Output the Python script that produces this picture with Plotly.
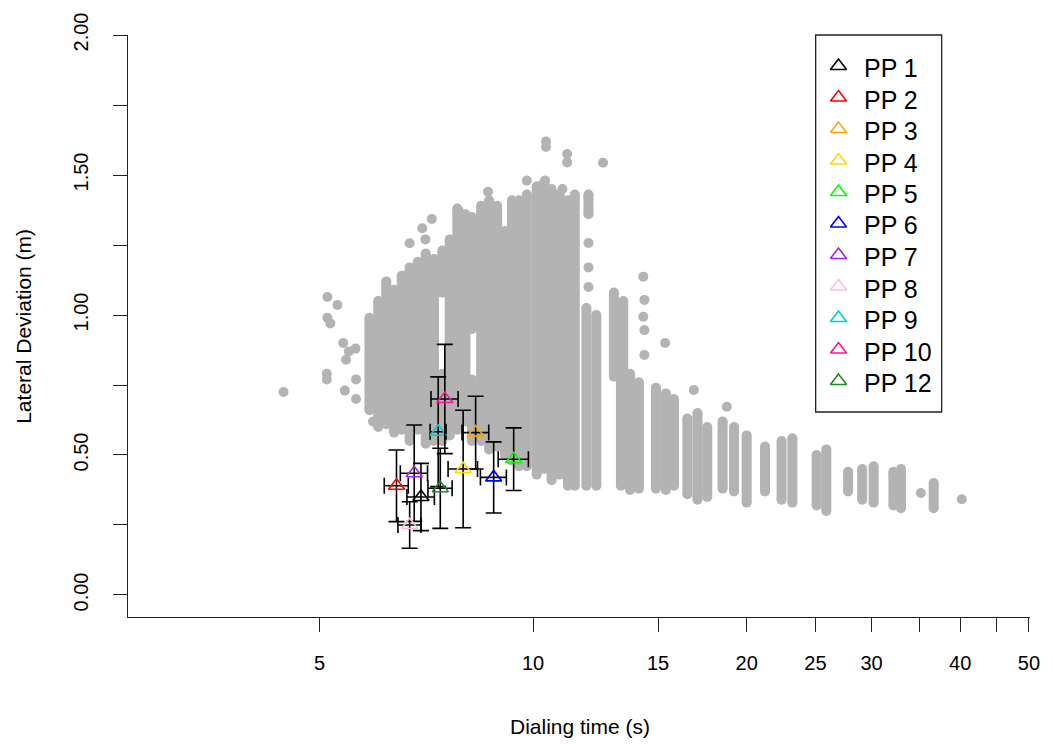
import plotly.graph_objects as go

# ---------------- background cloud (all trials) ----------------
# vertical clusters of trials: dialing time (s), lateral deviation low/high (m)
strip_x = [5.88, 6.05, 6.21, 6.37, 6.53, 6.70, 6.88, 7.06, 7.25, 7.45, 7.45,
           7.63, 7.82, 8.03, 8.20, 8.20, 8.45, 8.67, 8.90, 9.13, 9.34, 9.56,
           9.80, 10.12, 10.37, 10.62, 10.90, 11.20, 11.45, 11.97, 11.89, 12.28,
           13.0, 13.4, 13.3, 13.7, 14.1, 14.9, 15.39, 15.8, 16.5, 17.05, 17.6,
           18.5, 19.2, 20.0, 21.23, 22.4, 23.2, 25.1, 25.9, 27.8, 29.1, 30.2,
           32.2, 33.0, 36.7]
strip_lo = [0.66, 0.60, 0.61, 0.58, 0.59, 0.55, 0.59, 0.54, 0.55, 0.55, 1.08,
            0.57, 0.59, 0.62, 0.95, 0.55, 0.55, 0.52, 0.53, 0.50, 0.48, 0.46,
            0.46, 0.43, 0.45, 0.41, 0.43, 0.39, 0.39, 1.36, 0.39, 0.39,
            0.78, 0.78, 0.39, 0.375, 0.38, 0.38, 0.375, 0.39, 0.36, 0.34, 0.35,
            0.38, 0.37, 0.33, 0.37, 0.34, 0.33, 0.32, 0.30, 0.37, 0.34, 0.33,
            0.32, 0.31, 0.31]
strip_hi = [0.99, 1.05, 1.12, 1.09, 1.14, 1.17, 1.19, 1.22, 1.20, 0.79, 1.23,
            1.27, 1.38, 1.36, 1.35, 0.77, 1.39, 1.41, 1.39, 1.30, 1.41, 1.41,
            1.43, 1.46, 1.475, 1.45, 1.43, 1.41, 1.43, 1.43, 1.025, 1.00,
            1.08, 1.05, 0.79, 0.79, 0.76, 0.74, 0.72, 0.70, 0.63, 0.65, 0.60,
            0.62, 0.60, 0.57, 0.53, 0.55, 0.56, 0.50, 0.52, 0.44, 0.45, 0.46,
            0.44, 0.45, 0.40]

# isolated trials
dot_x = [4.45, 5.13, 5.30, 5.13, 5.18, 5.40, 5.50, 5.45, 5.62, 5.12, 5.12,
         5.63, 5.43, 5.63, 5.95, 10.43, 10.43, 11.17, 11.17, 12.55, 9.80,
         10.40, 8.64, 11.0, 7.20, 6.98, 7.05, 6.70, 7.20, 6.60, 7.85, 11.97,
         11.97, 11.97, 14.3, 14.35, 14.3, 14.35, 14.35, 15.35, 16.85, 18.75,
         35.2, 40.2]
dot_y = [0.725, 1.064, 1.036, 0.99, 0.97, 0.90, 0.87, 0.84, 0.88, 0.79, 0.77,
         0.77, 0.73, 0.70, 0.62, 1.62, 1.60, 1.575, 1.545, 1.544, 1.48,
         1.48, 1.44, 1.45, 1.343, 1.31, 1.27, 1.256, 1.167, 1.14, 1.375, 1.257,
         1.17, 1.10, 1.137, 1.054, 0.994, 0.946, 0.857, 0.90, 0.732, 0.672,
         0.364, 0.342]

# ---------------- participant means +/- SD ----------------
pp_names = ["PP 1", "PP 2", "PP 3", "PP 4", "PP 5", "PP 6", "PP 7", "PP 8",
            "PP 9", "PP 10", "PP 12"]
pp_x = [6.95, 6.42, 8.30, 7.97, 9.39, 8.80, 6.80, 6.70, 7.35, 7.51, 7.40]
pp_x_sd = [0.31, 0.25, 0.36, 0.38, 0.46, 0.37, 0.30, 0.25, 0.19, 0.33, 0.29]
pp_y = [0.35, 0.39, 0.58, 0.45, 0.485, 0.42, 0.435, 0.25, 0.583, 0.70, 0.381]
pp_y_sd = [0.12, 0.128, 0.13, 0.21, 0.112, 0.127, 0.172, 0.083, 0.196, 0.195, 0.143]
pp_colors = ["#000000", "#FF0000", "#FFA500", "#FFD700", "#00FF00", "#0000FF",
             "#A020F0", "#FFC0CB", "#00CDCD", "#FF1493", "#228B22"]

GRAY = "#B3B3B3"
FONT = "Liberation Sans, Arial, sans-serif"

# plot-area geometry in pixels (for the hand-built legend)
PLOT_L, PLOT_R, PLOT_T, PLOT_B = 128, 1037, 35, 617
PW, PH = PLOT_R - PLOT_L, PLOT_B - PLOT_T
def px_x(p):
    return (p - PLOT_L) / PW
def px_y(p):
    return (PLOT_B - p) / PH

fig = go.Figure()

sx, sy = [], []
for x, lo, hi in zip(strip_x, strip_lo, strip_hi):
    sx += [x, x, None]
    sy += [lo, hi, None]
fig.add_trace(go.Scatter(x=sx, y=sy, mode="lines+markers",
                         line=dict(color=GRAY, width=10),
                         marker=dict(size=10, color=GRAY),
                         showlegend=False, hoverinfo="skip"))
fig.add_trace(go.Scatter(x=dot_x, y=dot_y, mode="markers",
                         marker=dict(size=10, color=GRAY),
                         showlegend=False, hoverinfo="skip"))

for name, x, xs, y, ys, c in zip(pp_names, pp_x, pp_x_sd, pp_y, pp_y_sd, pp_colors):
    fig.add_trace(go.Scatter(
        x=[x], y=[y], mode="markers", name=name, showlegend=False,
        marker=dict(symbol="triangle-up-open", size=14, color=c,
                    line=dict(width=1.6, color=c)),
        error_x=dict(type="data", array=[xs], color="black", thickness=1.6, width=8),
        error_y=dict(type="data", array=[ys], color="black", thickness=1.6, width=8),
    ))

# legend (built by hand so the row spacing matches)
ROW0, ROWSTEP = 68, 31.5
leg_rows = [ROW0 + ROWSTEP * i for i in range(len(pp_names))]
fig.add_trace(go.Scatter(
    x=[px_x(844)] * len(pp_names), y=[px_y(r - 2) for r in leg_rows],
    xaxis="x2", yaxis="y2", mode="markers", showlegend=False, hoverinfo="skip",
    marker=dict(symbol="triangle-up-open", size=14, color=pp_colors,
                line=dict(width=1.6, color=pp_colors)),
))
annotations = [
    dict(text="Dialing time (s)", xref="paper", yref="paper", x=0.5015, y=-0.189,
         xanchor="center", yanchor="middle", showarrow=False, font=dict(size=21)),
    dict(text="Lateral Deviation (m)", xref="paper", yref="paper", x=px_x(22), y=0.5,
         xanchor="center", yanchor="middle", showarrow=False, textangle=-90,
         font=dict(size=21)),
]
for name, r in zip(pp_names, leg_rows):
    annotations.append(dict(text=name, xref="paper", yref="paper",
                            x=px_x(869), y=px_y(r), xanchor="left", yanchor="middle",
                            showarrow=False, font=dict(size=25), borderpad=0))

fig.update_layout(
    width=1052, height=745,
    margin=dict(l=PLOT_L, r=1052 - PLOT_R, t=PLOT_T, b=745 - PLOT_B),
    paper_bgcolor="white", plot_bgcolor="white",
    font=dict(family=FONT, size=20, color="black"),
    showlegend=False,
    xaxis=dict(type="log", range=[0.4291, 1.7004],
               tickvals=[5, 10, 15, 20, 25, 30, 35, 40, 45, 50],
               ticktext=["5", "10", "15", "20", "25", "30", "", "40", "", "50"],
               ticks="outside", ticklen=14, tickwidth=1.3, tickcolor="#222",
               showline=True, linecolor="#222", linewidth=1.3,
               showgrid=False, zeroline=False, ticklabelstandoff=14),
    yaxis=dict(range=[-0.0786, 2.0],
               tickvals=[0, 0.25, 0.5, 0.75, 1.0, 1.25, 1.5, 1.75, 2.0],
               ticktext=["0.00", "", "0.50", "", "1.00", "", "1.50", "", "2.00"],
               tickangle=-90,
               ticks="outside", ticklen=14, tickwidth=1.3, tickcolor="#222",
               showline=True, linecolor="#222", linewidth=1.3,
               showgrid=False, zeroline=False, ticklabelstandoff=17),
    xaxis2=dict(overlaying="x", range=[0, 1], visible=False, fixedrange=True),
    yaxis2=dict(overlaying="y", range=[0, 1], visible=False, fixedrange=True),
    shapes=[dict(type="rect", xref="paper", yref="paper",
                 x0=px_x(821), x1=px_x(948), y0=px_y(412), y1=px_y(35),
                 line=dict(color="#222", width=1.3), fillcolor="rgba(0,0,0,0)")],
    annotations=annotations,
)

fig.write_html("out.html")
